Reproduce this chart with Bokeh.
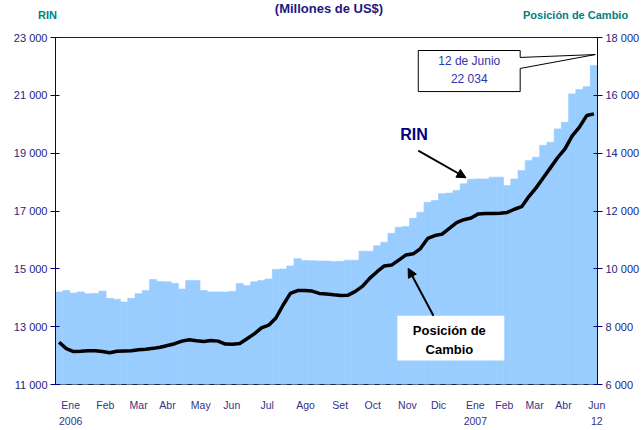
from bokeh.plotting import figure
from bokeh.layouts import column
from bokeh.models import Range1d, LinearAxis, FixedTicker, Label, Arrow, NormalHead, BoxAnnotation, Div
from bokeh.embed import file_html
from bokeh.resources import INLINE

# Weekly readings, 2 Jan 2006 - 12 Jun 2007 (millones de US$)
rin = [14200, 14250, 14160, 14200, 14140, 14150, 14230, 13980, 13950, 13850,
       13980, 14140, 14250, 14630, 14560, 14550, 14500, 14300, 14600, 14600,
       14250, 14200, 14200, 14200, 14220, 14490, 14420, 14550, 14600, 14650,
       14980, 14990, 15100, 15350, 15290, 15280, 15270, 15270, 15250, 15260,
       15300, 15300, 15610, 15610, 15800, 15920, 16230, 16440, 16460, 16750,
       16960, 17300, 17360, 17600, 17620, 17710, 17940, 18100, 18110, 18110,
       18170, 18170, 17880, 18110, 18400, 18750, 18860, 19270, 19380, 19840,
       20070, 21050, 21200, 21300, 22034]
pos = [7460, 7240, 7140, 7150, 7170, 7170, 7140, 7100, 7150, 7160,
       7170, 7200, 7220, 7250, 7290, 7350, 7410, 7500, 7550, 7510,
       7490, 7520, 7500, 7400, 7390, 7420, 7580, 7750, 7960, 8050,
       8300, 8750, 9150, 9250, 9250, 9230, 9150, 9130, 9100, 9080,
       9090, 9220, 9400, 9680, 9900, 10100, 10130, 10300, 10480, 10520,
       10700, 11050, 11150, 11200, 11400, 11600, 11700, 11760, 11900, 11910,
       11910, 11920, 11950, 12060, 12150, 12500, 12800, 13150, 13500, 13850,
       14150, 14600, 14900, 15300, 15360]
week = list(range(len(rin)))

month_pos = [1.6, 6.4, 11.0, 15.0, 19.6, 23.9, 28.8, 34.1, 38.9, 43.4, 48.2, 52.5,
             57.6, 61.6, 65.8, 69.8, 74.4]
month_labels = ["Ene\n2006", "Feb", "Mar", "Abr", "May", "Jun", "Jul", "Ago", "Set", "Oct",
                "Nov", "Dic", "Ene\n2007", "Feb", "Mar", "Abr", "Jun\n12"]

rin_ticks = [11000, 13000, 15000, 17000, 19000, 21000, 23000]
pos_ticks = [6000, 8000, 10000, 12000, 14000, 16000, 18000]

def fmt(v):
    return f"{v:,}".replace(",", " ")

FONT = "Liberation Sans"
NAVY = "#000080"
LBL = "#24247f"
TEAL = "#008080"

# ---- header strip with titles ----
hdr_html = (
    '<div style="position:relative;width:643px;height:29px;font-family:\'Liberation Sans\';'
    'font-weight:bold;margin:0;padding:0;">'
    '<span style="position:absolute;left:0px;width:658px;text-align:center;top:0px;'
    'font-size:13px;color:#1a1a80;">(Millones de US$)</span>'
    '<span style="position:absolute;left:38px;top:8px;font-size:11px;color:#008080;">RIN</span>'
    '<span style="position:absolute;left:523px;top:8px;font-size:11px;color:#008080;">'
    'Posición de Cambio</span>'
    '</div>'
)
hdr = Div(text=hdr_html, width=643, height=29, margin=0)

# ---- main chart ----
p = figure(width=643, height=401, output_backend="svg", toolbar_location=None,
           x_range=Range1d(-0.5, len(rin) - 0.5), y_range=Range1d(rin_ticks[0], rin_ticks[-1]),
           min_border_left=55, min_border_right=46, min_border_top=8, min_border_bottom=46)
p.extra_y_ranges = {"pos": Range1d(pos_ticks[0], pos_ticks[-1])}
p.grid.visible = False
p.outline_line_color = "#222222"

ya = p.yaxis[0]
ya.ticker = FixedTicker(ticks=rin_ticks)
ya.major_label_overrides = {v: fmt(v) for v in rin_ticks}

ra = LinearAxis(y_range_name="pos", ticker=FixedTicker(ticks=pos_ticks))
ra.major_label_overrides = {v: fmt(v) for v in pos_ticks}
p.add_layout(ra, "right")

for ax in (ya, ra):
    ax.axis_line_color = NAVY
    ax.major_tick_line_color = NAVY
    ax.major_tick_out = 5
    ax.major_tick_in = 4
    ax.minor_tick_line_color = None
    ax.major_label_text_font = FONT
    ax.major_label_text_font_size = "11px"
    ax.major_label_text_color = LBL
    ax.major_label_standoff = 3

xa = p.xaxis[0]
xa.ticker = FixedTicker(ticks=month_pos)
xa.major_label_overrides = {v: l for v, l in zip(month_pos, month_labels)}
xa.axis_line_color = "#222244"
xa.axis_line_dash = "5 6"
xa.major_tick_line_color = None
xa.minor_tick_line_color = None
xa.major_tick_out = 0
xa.major_tick_in = 0
xa.axis_label_standoff = 0
xa.major_label_standoff = 14
xa.major_label_text_font = FONT
xa.major_label_text_font_size = "10.5px"
xa.major_label_text_line_height = 1.35
xa.major_label_text_color = "#333388"

# RIN area (weekly steps)
p.vbar(x=week, top=rin, bottom=rin_ticks[0], width=1, fill_color="#99CCFF",
       line_color="#99CCFF", line_width=0.6)
# Posición de cambio
p.line(week, pos, y_range_name="pos", line_color="black", line_width=3.5)

# callout for last value
n = len(rin)
p.patch([49.7, 63.8, 63.8, n - 0.8, 63.8, 63.8, 49.7],
        [22550, 22550, 22310, 22410, 21930, 21130, 21130],
        fill_color="white", line_color="black", line_width=1)
p.add_layout(Label(x=56.75, y=22200, text="12 de Junio", text_align="center", text_baseline="middle",
                   text_font=FONT, text_font_size="12px", text_color="#3333aa"))
p.add_layout(Label(x=56.75, y=21560, text=fmt(rin[-1]), text_align="center", text_baseline="middle",
                   text_font=FONT, text_font_size="12px", text_color="#3333aa"))

# RIN label + arrow
p.add_layout(Label(x=47.2, y=19650, text="RIN", text_align="left", text_baseline="middle",
                   text_font=FONT, text_font_style="bold", text_font_size="16px", text_color=NAVY))
p.add_layout(Arrow(end=NormalHead(size=9, fill_color="black", line_color="black"),
                   x_start=49.7, y_start=19090, x_end=56.3, y_end=18150,
                   line_color="black", line_width=2))

# Posición de Cambio label + arrow
p.add_layout(BoxAnnotation(left=46.8, right=61.6, top=8380, bottom=6830, y_range_name="pos",
                           fill_color="white", fill_alpha=1, line_color=None))
p.add_layout(Label(x=54.0, y=7880, text="Posición de", text_align="center", text_baseline="middle",
                   y_range_name="pos", text_font=FONT, text_font_style="bold",
                   text_font_size="13px", text_color="black"))
p.add_layout(Label(x=54.0, y=7200, text="Cambio", text_align="center", text_baseline="middle",
                   y_range_name="pos", text_font=FONT, text_font_style="bold",
                   text_font_size="13px", text_color="black"))
p.add_layout(Arrow(end=NormalHead(size=9, fill_color="black", line_color="black"),
                   x_start=51.8, y_start=8380, x_end=48.3, y_end=10020, y_range_name="pos",
                   line_color="black", line_width=2))

layout = column(hdr, p, spacing=0)
open("out.html", "w").write(file_html(layout, INLINE))
